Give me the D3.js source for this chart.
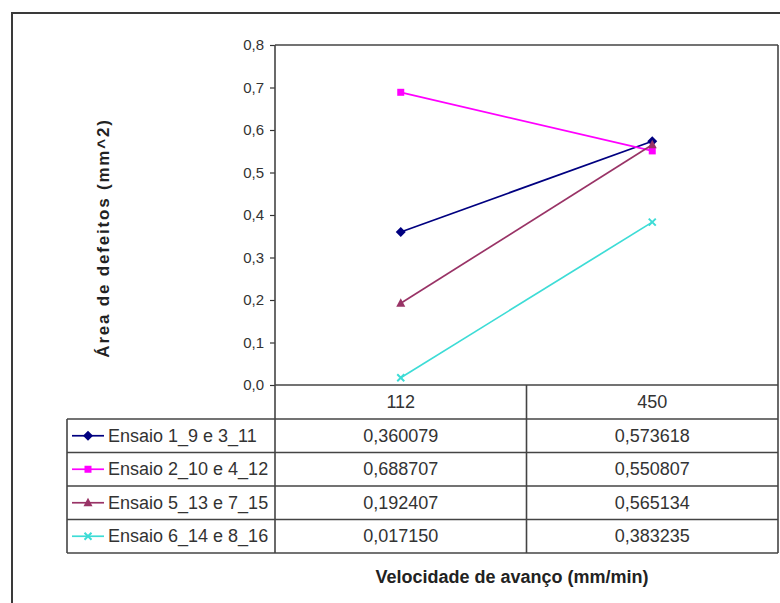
<!DOCTYPE html>
<html><head><meta charset="utf-8">
<script src="https://cdn.jsdelivr.net/npm/d3@7"></script>
<style>
html,body{margin:0;padding:0;background:#fff;}
svg{display:block;font-family:"Liberation Sans",Arial,sans-serif;}
</style></head>
<body><svg id="c" width="780" height="603"></svg>
<script>
const categories = ["112", "450"];
const seriesNames = ["Ensaio 1_9 e 3_11", "Ensaio 2_10 e 4_12", "Ensaio 5_13 e 7_15", "Ensaio 6_14 e 8_16"];
const s1 = [0.360079, 0.573618];
const s2 = [0.688707, 0.550807];
const s3 = [0.192407, 0.565134];
const s4 = [0.017150, 0.383235];
const yTicks = [0, 0.1, 0.2, 0.3, 0.4, 0.5, 0.6, 0.7, 0.8];
const yTitle = "Área de defeitos (mm^2)";
const xTitle = "Velocidade de avanço (mm/min)";

const seriesValues = [s1, s2, s3, s4];
const colors = ["#000080", "#FF00FF", "#993366", "#3DDCD6"];
const markers = ["diamond", "square", "triangle", "x"];

const svg = d3.select("#c");
const L = 275, R = 778, T = 45, B = 385;
const tableLeft = 67, rowH = 33.5;
const legendTop = 419;

// outer frame (extends beyond the window)
svg.append("rect").attr("x", 12).attr("y", 13).attr("width", 800).attr("height", 620)
  .attr("fill", "none").attr("stroke", "#3a3a3a").attr("stroke-width", 2);

const x = d3.scaleBand().domain(categories).range([L, R]);
const y = d3.scaleLinear().domain([0, 0.8]).range([B, T]);

// y axis
const yAxis = d3.axisLeft(y).tickValues(yTicks).tickSize(5).tickPadding(6)
  .tickFormat(d => d3.format(".1f")(d).replace(".", ","));
const ya = svg.append("g").attr("transform", `translate(${L},0)`).call(yAxis);
ya.select(".domain").remove();
ya.selectAll(".tick line").attr("stroke", "#333").attr("stroke-width", 1.2);
ya.selectAll(".tick text").attr("font-size", 15).attr("fill", "#333")
  .attr("font-family", "'Liberation Sans',Arial,sans-serif");

const gridC = "#444", gridW = 1.6;
function ln(x1, y1, x2, y2) {
  svg.append("line").attr("x1", x1).attr("y1", y1).attr("x2", x2).attr("y2", y2)
    .attr("stroke", gridC).attr("stroke-width", gridW);
}
const tableBottom = legendTop + rowH * seriesNames.length;
// plot border top and right, axis left
ln(L, T, R, T);
ln(R, T, R, tableBottom);
ln(L, T, L, tableBottom);
// table
ln(L, B, R, B);
for (let i = 0; i <= seriesNames.length; i++) {
  ln(tableLeft, legendTop + rowH * i, R, legendTop + rowH * i);
}
ln(tableLeft, legendTop, tableLeft, tableBottom);
ln(x("450"), B, x("450"), tableBottom);

// header cells
svg.selectAll(".hdr").data(categories).enter().append("text")
  .attr("x", d => x(d) + x.bandwidth() / 2).attr("y", (B + legendTop) / 2 + 6)
  .attr("text-anchor", "middle").attr("font-size", 18).attr("fill", "#333").text(d => d);

const fmt = v => d3.format(".6f")(v).replace(".", ",");

function drawMarker(g, type, cx, cy, color) {
  if (type === "diamond") {
    g.append("path").attr("d", `M${cx},${cy-5}L${cx+5},${cy}L${cx},${cy+5}L${cx-5},${cy}Z`).attr("fill", color);
  } else if (type === "square") {
    g.append("rect").attr("x", cx - 3.5).attr("y", cy - 3.5).attr("width", 7).attr("height", 7).attr("fill", color);
  } else if (type === "triangle") {
    g.append("path").attr("d", `M${cx},${cy-5}L${cx+4.5},${cy+3.5}L${cx-4.5},${cy+3.5}Z`).attr("fill", color);
  } else {
    g.append("path").attr("d", `M${cx-3.5},${cy-3.5}L${cx+3.5},${cy+3.5}M${cx+3.5},${cy-3.5}L${cx-3.5},${cy+3.5}`)
      .attr("stroke", color).attr("stroke-width", 2).attr("fill", "none");
  }
}

const line = d3.line().x((d, i) => x(categories[i]) + x.bandwidth() / 2).y(d => y(d));

seriesValues.forEach((vals, si) => {
  const g = svg.append("g");
  g.append("path").datum(vals).attr("d", line).attr("fill", "none")
    .attr("stroke", colors[si]).attr("stroke-width", 1.7);
  vals.forEach((v, i) => drawMarker(g, markers[si], x(categories[i]) + x.bandwidth() / 2, y(v), colors[si]));

  // table row
  const cy = legendTop + rowH * si + rowH / 2;
  g.append("line").attr("x1", 72).attr("x2", 104).attr("y1", cy).attr("y2", cy)
    .attr("stroke", colors[si]).attr("stroke-width", 1.7);
  drawMarker(g, markers[si], 88, cy, colors[si]);
  g.append("text").attr("x", 108).attr("y", cy + 6).attr("font-size", 18).attr("fill", "#333")
    .text(seriesNames[si]);
  vals.forEach((v, i) => {
    g.append("text").attr("x", x(categories[i]) + x.bandwidth() / 2).attr("y", cy + 6)
      .attr("text-anchor", "middle").attr("font-size", 18).attr("fill", "#333").text(fmt(v));
  });
});

// axis titles
svg.append("text").attr("transform", "translate(109,238) rotate(-90)")
  .attr("text-anchor", "middle").attr("font-size", 17).attr("font-weight", "bold")
  .attr("letter-spacing", 1.8).attr("fill", "#222").text(yTitle);
svg.append("text").attr("x", 512).attr("y", 583).attr("text-anchor", "middle")
  .attr("font-size", 18).attr("font-weight", "bold").attr("fill", "#222").text(xTitle);
</script></body></html>
